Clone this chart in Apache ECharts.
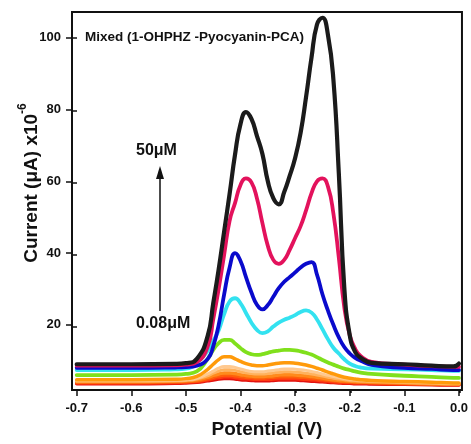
<!DOCTYPE html>
<html><head><meta charset="utf-8">
<script src="https://cdn.jsdelivr.net/npm/echarts@6/dist/echarts.min.js"></script>
<style>html,body{margin:0;padding:0;background:#fff}#c{width:471px;height:444px}</style>
</head><body><div id="c"></div>
<script>
// Potential (V) sample positions shared by all curves
const potentials = [-0.70,-0.60,-0.52,-0.50,-0.48,-0.46,-0.45,-0.44,-0.43,-0.42,-0.41,-0.40,-0.39,-0.38,-0.37,-0.36,-0.35,-0.34,-0.33,-0.32,-0.31,-0.30,-0.29,-0.28,-0.27,-0.26,-0.25,-0.24,-0.23,-0.22,-0.21,-0.20,-0.19,-0.18,-0.16,-0.10,-0.05,-0.01,0.00];
const xTicks = [-0.7,-0.6,-0.5,-0.4,-0.3,-0.2,-0.1,0.0];
const yTicks = [20,40,60,80,100];

// Current (µA x10^-6), lowest concentration first
const curveRed      = [3.6,3.6,3.7,3.8,4.0,4.4,4.6,4.9,5.0,5.0,4.9,4.7,4.6,4.5,4.4,4.4,4.4,4.5,4.6,4.6,4.6,4.6,4.5,4.4,4.3,4.2,4.1,4.0,3.9,3.8,3.7,3.7,3.6,3.6,3.5,3.4,3.3,3.2,3.2];
const curveRedOr    = [3.8,3.8,3.9,4.0,4.2,4.7,5.0,5.3,5.5,5.5,5.3,5.1,5.0,4.9,4.8,4.8,4.8,4.9,5.0,5.0,5.0,5.0,4.9,4.8,4.7,4.6,4.4,4.3,4.1,4.0,3.9,3.9,3.8,3.8,3.7,3.5,3.4,3.3,3.3];
const curveOrRed    = [4.0,4.0,4.1,4.2,4.4,5.0,5.4,5.8,6.0,6.0,5.8,5.6,5.4,5.3,5.2,5.2,5.3,5.4,5.5,5.5,5.5,5.5,5.4,5.3,5.2,5.0,4.8,4.6,4.5,4.3,4.2,4.1,4.0,4.0,3.9,3.7,3.5,3.4,3.4];
const curveOrange1  = [4.2,4.2,4.3,4.4,4.7,5.4,5.9,6.3,6.6,6.6,6.4,6.1,5.9,5.7,5.6,5.6,5.7,5.8,6.0,6.1,6.1,6.0,5.9,5.8,5.6,5.4,5.2,4.9,4.7,4.5,4.4,4.3,4.2,4.1,4.0,3.8,3.6,3.5,3.5];
const curveLightOr  = [4.3,4.3,4.4,4.5,4.9,5.8,6.5,7.1,7.5,7.5,7.3,6.9,6.6,6.4,6.3,6.3,6.4,6.6,6.8,6.9,6.9,6.8,6.7,6.5,6.3,6.0,5.7,5.4,5.1,4.9,4.7,4.5,4.4,4.3,4.2,3.9,3.7,3.6,3.6];
const curvePeach    = [4.5,4.5,4.6,4.7,5.1,6.3,7.1,7.9,8.4,8.4,8.1,7.7,7.3,7.0,6.9,6.9,7.1,7.3,7.5,7.7,7.7,7.6,7.5,7.3,7.0,6.7,6.3,5.9,5.6,5.3,5.0,4.8,4.7,4.6,4.4,4.1,3.9,3.7,3.7];
const curveOrange2  = [4.7,4.7,4.8,5.0,5.6,7.6,9.0,10.3,11.1,11.1,10.5,9.8,9.2,8.8,8.6,8.6,8.8,9.1,9.3,9.4,9.4,9.3,9.1,8.8,8.4,7.9,7.4,6.8,6.3,5.8,5.4,5.1,4.9,4.7,4.5,4.2,4.0,3.8,3.8];
const curveGreen    = [6.0,6.0,6.1,6.3,7.0,10.5,13.0,14.9,15.8,15.8,14.8,13.5,12.4,11.8,11.6,11.8,12.2,12.6,12.8,13.0,13.0,12.9,12.6,12.2,11.7,11.0,10.2,9.5,8.9,8.3,7.8,7.4,7.0,6.7,6.3,5.8,5.5,5.2,5.2];
const curveCyan     = [7.4,7.4,7.6,7.8,9.4,12.8,15.5,18.5,23.0,26.5,27.4,26.0,23.3,20.6,18.6,17.7,18.2,19.5,20.6,21.4,22.0,22.7,23.6,24.0,23.4,21.5,18.8,16.0,13.6,12.0,10.4,9.2,8.5,8.1,7.8,7.6,7.4,7.2,7.2];
const curveBlue     = [8.0,8.0,8.1,8.2,8.6,10.5,14.0,20.0,28.5,36.0,40.0,37.8,33.3,29.0,25.6,24.3,25.5,27.8,30.2,32.0,33.3,34.6,36.0,37.0,37.5,34.0,28.5,24.0,20.0,16.5,13.8,12.0,10.8,10.0,8.8,8.0,7.7,7.4,7.4];
const curveCrimson  = [8.6,8.6,8.7,8.9,9.6,14.0,21.5,30.0,39.5,49.0,54.0,59.0,60.8,59.7,55.3,48.4,42.0,38.1,37.0,38.1,40.9,44.2,47.5,51.9,56.7,60.0,60.8,58.6,51.1,38.7,24.9,17.1,13.3,11.3,9.7,8.9,8.5,8.3,8.3];
const curveBlack    = [9.0,9.0,9.1,9.3,10.5,17.0,26.0,35.5,46.0,56.5,67.5,76.0,79.3,77.4,72.7,67.7,60.0,55.3,53.6,57.0,61.5,66.5,73.5,83.5,94.5,103.7,105.6,100.9,88.5,62.2,30.4,17.1,12.4,10.8,9.4,9.0,8.6,8.4,9.2];

const curves = [curveRed,curveRedOr,curveOrRed,curveOrange1,curveLightOr,curvePeach,curveOrange2,curveGreen,curveCyan,curveBlue,curveCrimson,curveBlack];
const curveColors = ['#e3120f','#ff3a12','#ff5f0a','#ff8a1c','#ffb25e','#ffc98f','#ff9a0a','#80e01c','#33e2f0','#0a0acc','#e3125c','#1b1b1b'];
const curveWidths = [3.5,3.5,3.5,3.5,3,3,3.5,3.8,3.8,3.8,3.8,4.2];

const FONT = '"Liberation Sans", Arial, Helvetica, sans-serif';
const INK = '#111';
const xMin = -0.7086, xMax = 0.0055, yMin = 1.8, yMax = 107.2;
const gridBox = {left:72, top:12, right:8, bottom:51};

const chart = echarts.init(document.getElementById('c'), null, {renderer:'canvas'});
const series = curves.map((vals, k) => ({
  type:'line', name:'c'+k, showSymbol:false, smooth:0.5,
  data: vals.map((v,i)=>[potentials[i], v]),
  lineStyle:{color:curveColors[k], width:curveWidths[k], cap:'round', join:'round'}, itemStyle:{color:curveColors[k]},
  z: 2 + k, silent:true
}));

chart.setOption({
  animation:false,
  backgroundColor:'#fff',
  grid:[
    Object.assign({show:true, borderColor:INK, borderWidth:2, backgroundColor:'transparent'}, gridBox),
    Object.assign({show:false}, gridBox)
  ],
  xAxis:[{
    gridIndex:0, type:'value', min:xMin, max:xMax, position:'bottom',
    axisLine:{show:false, onZero:false}, splitLine:{show:false},
    axisTick:{show:true, inside:false, length:6, customValues:xTicks, lineStyle:{color:INK, width:1.5}},
    axisLabel:{customValues:xTicks, formatter:v=>v.toFixed(1), margin:12, fontSize:13, fontWeight:'bold', color:INK, fontFamily:FONT},
    name:'Potential (V)', nameLocation:'middle', nameGap:28,
    nameTextStyle:{fontSize:19, fontWeight:'bold', color:INK, fontFamily:FONT}
  },{
    gridIndex:1, type:'value', min:xMin, max:xMax, position:'bottom',
    axisLine:{show:false, onZero:false}, splitLine:{show:false}, axisLabel:{show:false},
    axisTick:{show:true, inside:true, length:4, customValues:xTicks, lineStyle:{color:INK, width:1.5}}
  }],
  yAxis:[{
    gridIndex:0, type:'value', min:yMin, max:yMax, position:'left',
    axisLine:{show:false, onZero:false}, splitLine:{show:false},
    axisTick:{show:true, inside:false, length:6, customValues:yTicks, lineStyle:{color:INK, width:1.5}},
    axisLabel:{customValues:yTicks, margin:11, fontSize:13, fontWeight:'bold', color:INK, fontFamily:FONT}
  },{
    gridIndex:1, type:'value', min:yMin, max:yMax, position:'left',
    axisLine:{show:false, onZero:false}, splitLine:{show:false}, axisLabel:{show:false},
    axisTick:{show:true, inside:true, length:5, customValues:yTicks, lineStyle:{color:INK, width:1.5}}
  }],
  series: series,
  graphic:[
    {type:'text', x:29, y:183, rotation:Math.PI/2, z:100,
     style:{text:'{a|Current (μA) x10}{b|-6}', align:'center', verticalAlign:'middle',
       rich:{a:{fontSize:19, fontWeight:'bold', fontFamily:FONT, fill:INK, padding:[5,0,0,0]},
             b:{fontSize:12, fontWeight:'bold', fontFamily:FONT, fill:INK, verticalAlign:'top'}}}},
    {type:'text', x:85, y:37, z:100, style:{text:'Mixed (1-OHPHZ -Pyocyanin-PCA)', font:'bold 13.5px '+FONT, fill:INK, verticalAlign:'middle'}},
    {type:'text', x:136, y:151, z:100, style:{text:'50μM', font:'bold 16px '+FONT, fill:INK, verticalAlign:'middle'}},
    {type:'text', x:136, y:324, z:100, style:{text:'0.08μM', font:'bold 16px '+FONT, fill:INK, verticalAlign:'middle'}},
    {type:'line', z:100, shape:{x1:160, y1:311, x2:160, y2:176}, style:{stroke:INK, lineWidth:1.5}},
    {type:'polygon', z:100, shape:{points:[[160,166],[156,179],[164,179]]}, style:{fill:INK}}
  ]
});
</script></body></html>
